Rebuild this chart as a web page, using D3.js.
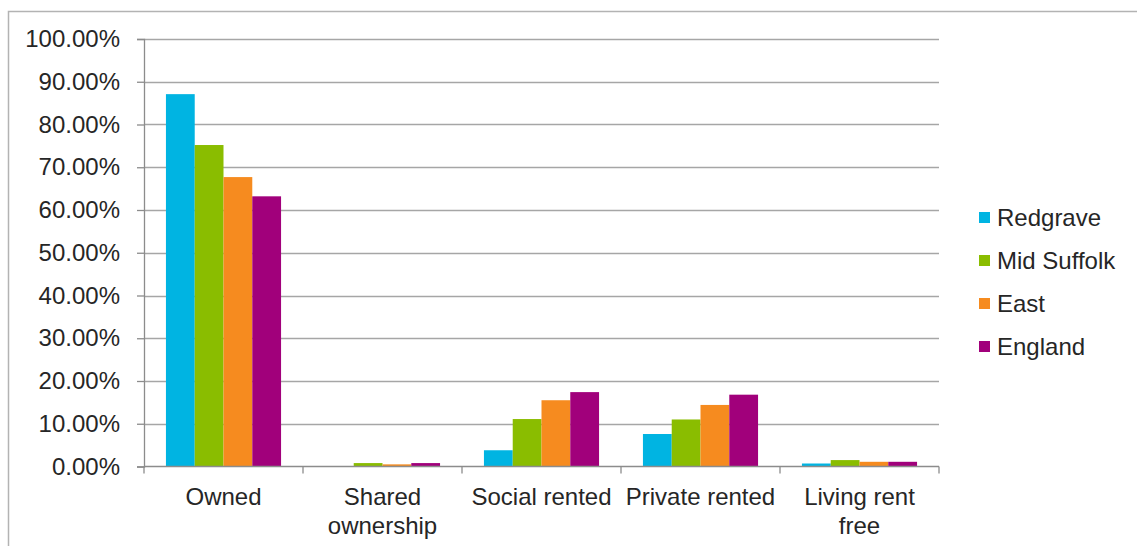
<!DOCTYPE html>
<html>
<head>
<meta charset="utf-8">
<script src="https://cdn.jsdelivr.net/npm/d3@7"></script>
<style>
  body { margin: 0; background: #fff; }
  text { font-family: "Liberation Sans", Arial, sans-serif; fill: #262626; }
</style>
</head>
<body>
<div id="chart"></div>
<script>
// Chart data
var categories = ["Owned", "Shared ownership", "Social rented", "Private rented", "Living rent free"];
var categoryLines = [["Owned"], ["Shared", "ownership"], ["Social rented"], ["Private rented"], ["Living rent", "free"]];
var seriesNames = ["Redgrave", "Mid Suffolk", "East", "England"];
var redgrave = [0.871, 0.0, 0.038, 0.076, 0.007];
var midSuffolk = [0.752, 0.008, 0.111, 0.110, 0.015];
var east = [0.677, 0.005, 0.155, 0.144, 0.011];
var england = [0.632, 0.008, 0.174, 0.168, 0.011];
var yTicks = [0, 0.1, 0.2, 0.3, 0.4, 0.5, 0.6, 0.7, 0.8, 0.9, 1.0];

var seriesValues = [redgrave, midSuffolk, east, england];
var colors = ["#00b4e2", "#8abd00", "#f68b1f", "#a1007b"];

// SVG area
var svgWidth = 1137;
var svgHeight = 546;
var fontSize = 24;

var chartMargin = { top: 39, right: 198, bottom: 80, left: 144 };
var chartWidth = svgWidth - chartMargin.left - chartMargin.right;
var chartHeight = 466.5 - chartMargin.top;

var svg = d3.select("#chart")
  .append("svg")
  .attr("width", svgWidth)
  .attr("height", svgHeight);

// outer border of the chart object
svg.append("rect")
  .attr("x", 8.5)
  .attr("y", 11.5)
  .attr("width", 1140)
  .attr("height", 545)
  .attr("fill", "none")
  .attr("stroke", "#b3b3b3")
  .attr("stroke-width", 1.5);

var chartGroup = svg.append("g")
  .attr("transform", `translate(${chartMargin.left}, ${chartMargin.top})`);

// scales
var x0 = d3.scaleBand()
  .domain(categories)
  .range([0, chartWidth])
  .padding(0);

var gap = x0.bandwidth() * 0.138;
var x1 = d3.scaleBand()
  .domain(seriesNames)
  .range([gap, x0.bandwidth() - gap])
  .padding(0);

var yScale = d3.scaleLinear()
  .domain([0, 1])
  .range([chartHeight, 0]);

// gridlines
chartGroup.append("g")
  .selectAll("line")
  .data(yTicks.slice(1))
  .enter().append("line")
  .attr("x1", 0)
  .attr("x2", chartWidth)
  .attr("y1", d => Math.round(yScale(d)) + 0.5)
  .attr("y2", d => Math.round(yScale(d)) + 0.5)
  .attr("stroke", "#a6a6a6")
  .attr("stroke-width", 1.3);

// left axis
var leftAxis = d3.axisLeft(yScale)
  .tickValues(yTicks)
  .tickSize(7)
  .tickPadding(17)
  .tickFormat(d => (d * 100).toFixed(2) + "%");

var yAxisG = chartGroup.append("g").call(leftAxis);
yAxisG.select(".domain").attr("stroke", "#8c8c8c").attr("stroke-width", 1.3);
yAxisG.selectAll(".tick line").attr("stroke", "#8c8c8c").attr("stroke-width", 1.3);
yAxisG.selectAll(".tick text")
  .attr("font-size", fontSize)
  .attr("font-family", "Liberation Sans, Arial, sans-serif")
  .attr("fill", "#262626");

// bars
var groups = chartGroup.append("g")
  .selectAll("g")
  .data(categories)
  .enter().append("g")
  .attr("transform", d => `translate(${x0(d)}, 0)`);

groups.selectAll("rect")
  .data((d, i) => seriesNames.map((s, j) => ({ series: s, value: seriesValues[j][i], color: colors[j] })))
  .enter().append("rect")
  .attr("x", d => x1(d.series))
  .attr("width", x1.bandwidth())
  .attr("y", d => yScale(d.value))
  .attr("height", d => chartHeight - yScale(d.value))
  .attr("fill", d => d.color);

// bottom axis line with category boundary ticks
var xAxisG = chartGroup.append("g")
  .attr("transform", `translate(0, ${chartHeight})`);

xAxisG.append("line")
  .attr("x1", 0)
  .attr("x2", chartWidth)
  .attr("stroke", "#8c8c8c")
  .attr("stroke-width", 1.3);

var boundaries = categories.map(c => x0(c)).concat([chartWidth]);
xAxisG.selectAll(".bound")
  .data(boundaries)
  .enter().append("line")
  .attr("class", "bound")
  .attr("x1", d => d)
  .attr("x2", d => d)
  .attr("y1", 0)
  .attr("y2", 7)
  .attr("stroke", "#8c8c8c")
  .attr("stroke-width", 1.3);

// category labels
var labels = xAxisG.selectAll(".cat")
  .data(categories)
  .enter().append("text")
  .attr("class", "cat")
  .attr("text-anchor", "middle")
  .attr("font-size", fontSize)
  .attr("x", d => x0(d) + x0.bandwidth() / 2)
  .attr("y", 38);

labels.each(function(d, i) {
  var t = d3.select(this);
  categoryLines[i].forEach(function(line, k) {
    t.append("tspan")
      .attr("x", x0(d) + x0.bandwidth() / 2)
      .attr("dy", k === 0 ? 0 : 29)
      .text(line);
  });
});

// legend
var legend = svg.append("g")
  .attr("transform", "translate(979, 212)");

var legendItems = legend.selectAll("g")
  .data(seriesNames)
  .enter().append("g")
  .attr("transform", (d, i) => `translate(0, ${i * 43})`);

legendItems.append("rect")
  .attr("width", 11)
  .attr("height", 11)
  .attr("fill", (d, i) => colors[i]);

legendItems.append("text")
  .attr("x", 18)
  .attr("y", 14)
  .attr("font-size", fontSize)
  .text(d => d);
</script>
</body>
</html>
